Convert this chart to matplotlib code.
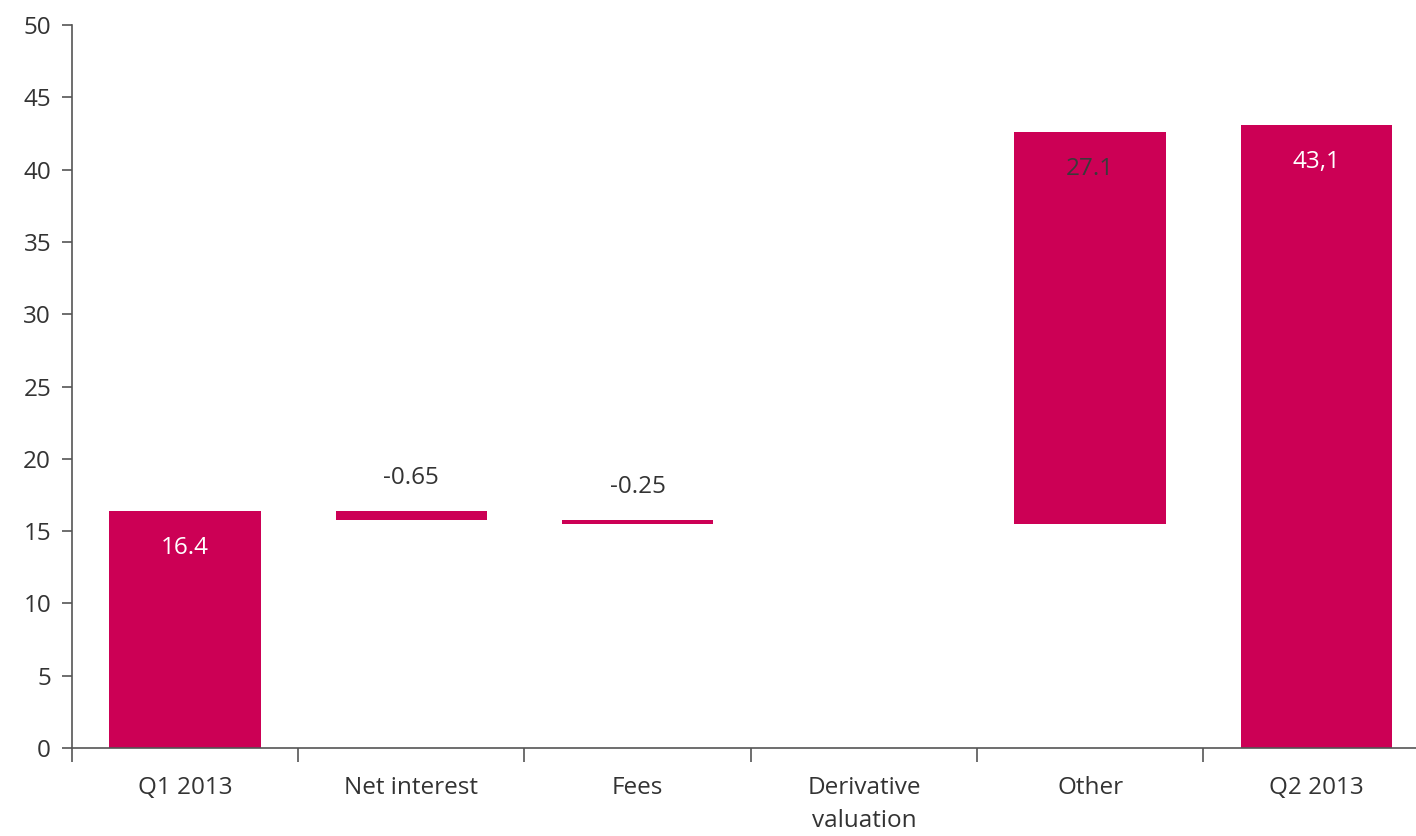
import matplotlib.pyplot as plt
import numpy as np

plt.rcParams['font.family'] = ['Open Sans', 'DejaVu Sans']

# waterfall steps
categories = ['Q1 2013', 'Net interest', 'Fees', 'Derivative\nvaluation', 'Other', 'Q2 2013']
changes = [16.4, -0.65, -0.25, 0.0, 27.1, 43.1]
is_total = [True, False, False, False, False, True]
labels = ['16.4', '-0.65', '-0.25', '', '27.1', '43,1']
label_colors = ['white', '#333333', '#333333', '#333333', '#3a3a3a', 'white']

bar_color = '#cc0055'
axis_color = '#555555'
fs = 17.5

fig = plt.figure(figsize=(14.16, 8.36), dpi=100)
ax = fig.add_axes([0.0508, 0.1053, 0.9492, 0.8647])

running = 0.0
x = np.arange(len(categories))
for i, (c, tot) in enumerate(zip(changes, is_total)):
    if tot:
        bottom, height = 0.0, c
        running = c
    else:
        bottom = running + min(c, 0)
        height = abs(c)
        running += c
    if height > 0:
        ax.bar(x[i], height, bottom=bottom, width=0.67, color=bar_color, zorder=2)
    top = bottom + height
    lab = labels[i]
    if not lab:
        continue
    if height > 2:
        ax.text(x[i], top - 1.75, lab, ha='center', va='top', fontsize=fs,
                color=label_colors[i])
    else:
        ax.text(x[i], top + 1.45, lab, ha='center', va='bottom', fontsize=fs,
                color=label_colors[i])

ax.set_xlim(-0.5, 5.44)
ax.set_ylim(0, 50)
ax.set_yticks(np.arange(0, 51, 5))
ax.set_xticks(x)
ax.set_xticklabels(categories, fontsize=fs, color='#333333', linespacing=1.5)
ax.set_xticks(np.arange(-0.5, 5.0, 1.0), minor=True)

for side in ['top', 'right']:
    ax.spines[side].set_visible(False)
for side in ['left', 'bottom']:
    ax.spines[side].set_color(axis_color)
    ax.spines[side].set_linewidth(1.2)

ax.tick_params(axis='y', labelsize=fs, colors='#333333', length=7, width=1.2,
               color=axis_color, pad=8)
ax.tick_params(axis='x', which='major', length=0, pad=20)
ax.tick_params(axis='x', which='minor', length=10, width=1.2, color=axis_color)

fig.savefig('out.png', dpi=100)
